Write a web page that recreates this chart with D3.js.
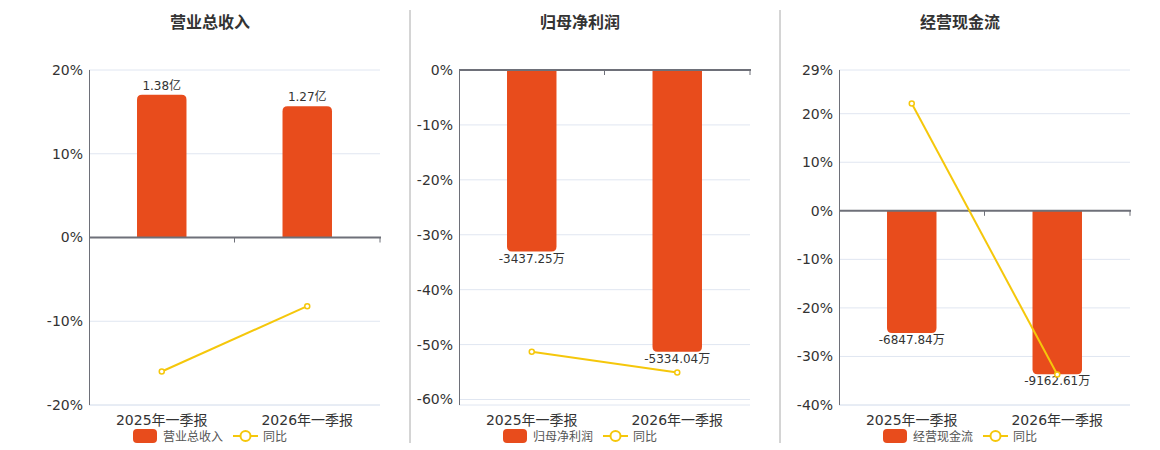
<!DOCTYPE html>
<html>
<head>
<meta charset="utf-8">
<script src="https://cdn.jsdelivr.net/npm/d3@7"></script>
<style>
  body { margin: 0; background: #fff; }
  svg { display: block; font-family: "DejaVu Sans", "Noto Sans CJK SC", sans-serif; }
</style>
</head>
<body>
<svg id="chart"></svg>
<script>
// categories shared by all three panels
const categories = ["2025年一季报", "2026年一季报"];

// panel titles / series names
const titles = ["营业总收入", "归母净利润", "经营现金流"];

// bar values and their text labels
const revenueValues = [1.38, 1.27];           // 亿
const profitValues = [-3437.25, -5334.04];    // 万
const cashValues = [-6847.84, -9162.61];      // 万
const revenueLabels = ["1.38亿", "1.27亿"];
const profitLabels = ["-3437.25万", "-5334.04万"];
const cashLabels = ["-6847.84万", "-9162.61万"];

// 同比 (%)
const revenueYoy = [-16.0, -8.2];
const profitYoy = [-51.3, -55.1];
const cashYoy = [22.1, -33.7];

// percent axis ticks
const revenueTicks = [20, 10, 0, -10, -20];
const profitTicks = [0, -10, -20, -30, -40, -50, -60];
const cashTicks = [29, 20, 10, 0, -10, -20, -30, -40];

// axis extents (percent axis, and the hidden value axis of the bars)
const revenuePctDomain = [-20, 20];
const profitPctDomain = [-61, 0];
const cashPctDomain = [-40, 29];
const revenueBarDomain = [-1.62, 1.62];
const profitBarDomain = [-6340, 0];
const cashBarDomain = [-10890, 7895];

const panels = [
  { title: titles[0], values: revenueValues, labels: revenueLabels, yoy: revenueYoy,
    ticks: revenueTicks, pct: revenuePctDomain, bar: revenueBarDomain, left: 89, right: 380, titleX: 210 },
  { title: titles[1], values: profitValues, labels: profitLabels, yoy: profitYoy,
    ticks: profitTicks, pct: profitPctDomain, bar: profitBarDomain, left: 459, right: 750, titleX: 580 },
  { title: titles[2], values: cashValues, labels: cashLabels, yoy: cashYoy,
    ticks: cashTicks, pct: cashPctDomain, bar: cashBarDomain, left: 839, right: 1130, titleX: 960 }
];

const width = 1160, height = 450;
const plotTop = 70, plotBottom = 405;
const barColor = "#e84c1c", lineColor = "#f5c70b";
const axisColor = "#6e7079", gridColor = "#e0e6f1";

const svg = d3.select("#chart").attr("width", width).attr("height", height);

// separators between panels
[410, 780].forEach(x => {
  svg.append("line")
    .attr("x1", x).attr("x2", x).attr("y1", 10).attr("y2", 443)
    .attr("stroke", "#aaa").attr("stroke-width", 1);
});

// bar with rounded far end
function barPath(x, w, y0, y1, r) {
  const dir = y1 < y0 ? -1 : 1;
  const h = Math.abs(y1 - y0);
  r = Math.min(r, h, w / 2);
  if (dir < 0) {
    return `M${x},${y0}V${y1 + r}Q${x},${y1} ${x + r},${y1}H${x + w - r}Q${x + w},${y1} ${x + w},${y1 + r}V${y0}Z`;
  }
  return `M${x},${y0}V${y1 - r}Q${x},${y1} ${x + r},${y1}H${x + w - r}Q${x + w},${y1} ${x + w},${y1 - r}V${y0}Z`;
}

panels.forEach(p => {
  const g = svg.append("g");

  const x = d3.scaleBand().domain(categories).range([p.left, p.right]);
  const y = d3.scaleLinear().domain(p.pct).range([plotBottom, plotTop]);
  const yBar = d3.scaleLinear().domain(p.bar).range([y(p.pct[0]), y(p.pct[1])]);
  const zero = y(0);

  // title
  g.append("text")
    .attr("x", p.titleX).attr("y", 28)
    .attr("text-anchor", "middle")
    .attr("font-family", "'Noto Sans CJK SC', sans-serif")
    .attr("font-weight", "bold").attr("font-size", 16).attr("fill", "#333")
    .text(p.title);

  // grid
  g.append("g").selectAll("line")
    .data(p.ticks.filter(t => t !== 0).concat([p.pct[0]]))
    .join("line")
    .attr("x1", p.left).attr("x2", p.right)
    .attr("y1", d => y(d)).attr("y2", d => y(d))
    .attr("stroke", gridColor).attr("stroke-width", 1);

  // y axis
  const yAxis = g.append("g")
    .attr("transform", `translate(${p.left},0)`)
    .call(d3.axisLeft(y).tickValues(p.ticks).tickSize(0).tickPadding(6).tickFormat(d => d + "%"));
  yAxis.select(".domain").remove();
  yAxis.selectAll("text").attr("font-size", 14).attr("fill", "#333")
    .attr("font-family", "'DejaVu Sans', sans-serif");
  g.append("line")
    .attr("x1", p.left + 0.5).attr("x2", p.left + 0.5)
    .attr("y1", plotTop).attr("y2", plotBottom)
    .attr("stroke", axisColor).attr("stroke-width", 1);

  // bars
  const bw = x.bandwidth() * 0.34;
  g.append("g").selectAll("path")
    .data(p.values)
    .join("path")
    .attr("d", (d, i) => barPath(x(categories[i]) + (x.bandwidth() - bw) / 2, bw, zero, yBar(d), 5))
    .attr("fill", barColor);

  // bar labels
  g.append("g").selectAll("text")
    .data(p.values)
    .join("text")
    .attr("x", (d, i) => x(categories[i]) + x.bandwidth() / 2)
    .attr("y", d => d >= 0 ? yBar(d) - 5 : yBar(d) + 11)
    .attr("text-anchor", "middle")
    .attr("font-size", 12).attr("fill", "#333")
    .text((d, i) => p.labels[i]);

  // x axis (zero line)
  const xAxis = g.append("g")
    .attr("transform", `translate(0,${zero})`);
  xAxis.append("line")
    .attr("x1", p.left).attr("x2", p.right + 1)
    .attr("stroke", axisColor).attr("stroke-width", 2);
  xAxis.selectAll("line.tk")
    .data(categories.slice(1).map(c => x(c)).concat([p.right]))
    .join("line").attr("class", "tk")
    .attr("x1", d => d).attr("x2", d => d).attr("y1", 0).attr("y2", 5)
    .attr("stroke", axisColor).attr("stroke-width", 1);

  // category labels
  g.append("g").selectAll("text")
    .data(categories)
    .join("text")
    .attr("x", d => x(d) + x.bandwidth() / 2)
    .attr("y", 425)
    .attr("text-anchor", "middle")
    .attr("font-size", 14).attr("fill", "#333")
    .text(d => d);

  // yoy line
  const line = d3.line()
    .x((d, i) => x(categories[i]) + x.bandwidth() / 2)
    .y(d => y(d));
  g.append("path")
    .datum(p.yoy)
    .attr("d", line)
    .attr("fill", "none").attr("stroke", lineColor).attr("stroke-width", 2);
  g.append("g").selectAll("circle")
    .data(p.yoy)
    .join("circle")
    .attr("cx", (d, i) => x(categories[i]) + x.bandwidth() / 2)
    .attr("cy", d => y(d))
    .attr("r", 2.5)
    .attr("fill", "#fff").attr("stroke", lineColor).attr("stroke-width", 1.5);

  // legend
  const lx = p.left + 44;
  const lg = g.append("g").attr("transform", `translate(${lx},436)`);
  lg.append("rect")
    .attr("x", 0).attr("y", -7).attr("width", 24).attr("height", 14).attr("rx", 4)
    .attr("fill", barColor);
  lg.append("text")
    .attr("x", 30).attr("y", 4.5)
    .attr("font-size", 12).attr("fill", "#555")
    .attr("font-family", "'Noto Sans CJK SC', sans-serif")
    .text(p.title);
  lg.append("line")
    .attr("x1", 100).attr("x2", 125).attr("y1", 0).attr("y2", 0)
    .attr("stroke", lineColor).attr("stroke-width", 2);
  lg.append("circle")
    .attr("cx", 112.5).attr("cy", 0).attr("r", 5)
    .attr("fill", "#fff").attr("stroke", lineColor).attr("stroke-width", 2);
  lg.append("text")
    .attr("x", 130).attr("y", 4.5)
    .attr("font-size", 12).attr("fill", "#555")
    .attr("font-family", "'Noto Sans CJK SC', sans-serif")
    .text("同比");
});
</script>
</body>
</html>
